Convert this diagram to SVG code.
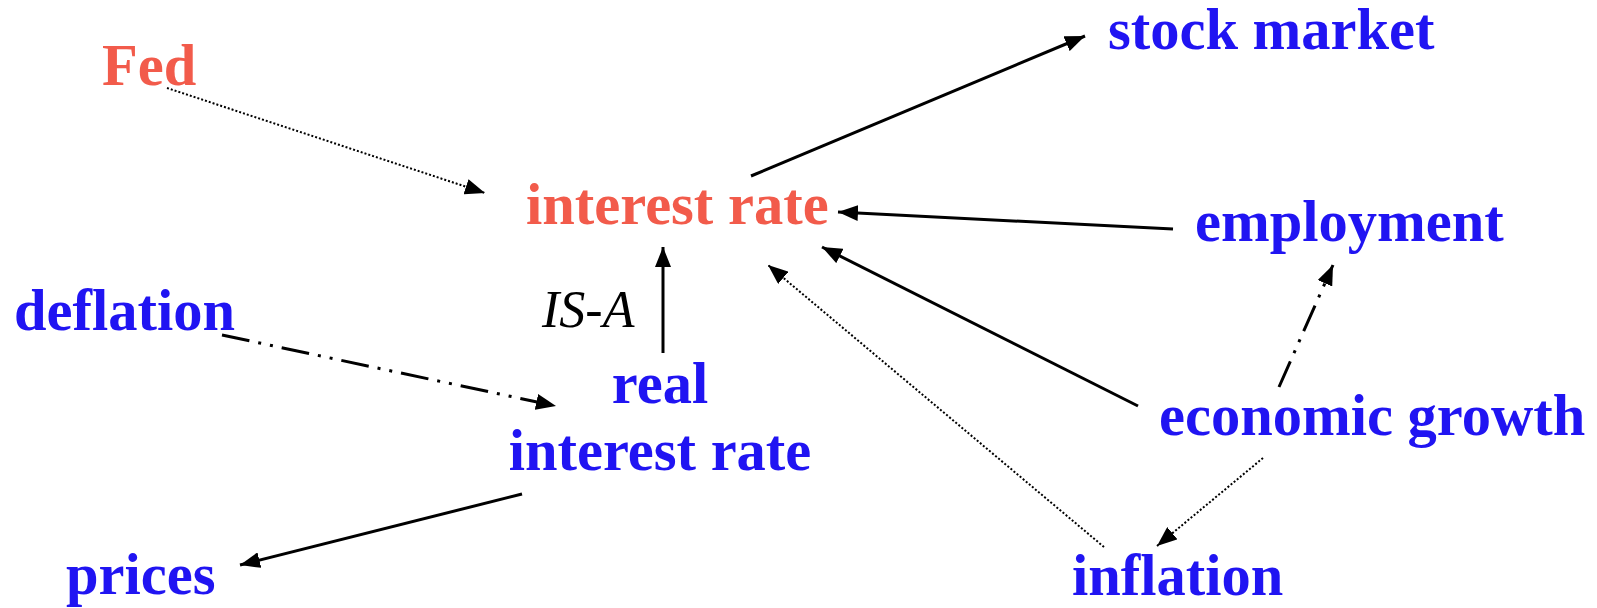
<svg xmlns="http://www.w3.org/2000/svg" width="1597" height="608" viewBox="0 0 1597 608">
<style>
text{font-family:"Liberation Serif","Times New Roman",serif;font-weight:bold;font-size:58.5px}
.red{fill:#F25B4B}
.blue{fill:#2014F2}
.isa{font-weight:normal;font-style:italic;font-size:52px;fill:#000}
.solid{stroke:#000;stroke-width:3;fill:none}
.dot{stroke:#000;stroke-width:2;stroke-dasharray:2 2;fill:none}
.dashdot{stroke:#000;stroke-width:3;stroke-dasharray:28 9 3 9 3 9;fill:none}
</style>
<defs>
<marker id="ah" markerUnits="userSpaceOnUse" markerWidth="22" markerHeight="16" refX="20" refY="8" orient="auto">
<path d="M0,0 L20,8 L0,16 z" fill="#000"/>
</marker>
</defs>
<g id="connectors">
<line class="dot" x1="167" y1="88" x2="485" y2="193" marker-end="url(#ah)"/>
<line class="solid" x1="751" y1="176" x2="1085" y2="36" marker-end="url(#ah)"/>
<line class="solid" x1="1173" y1="229" x2="838" y2="212" marker-end="url(#ah)"/>
<line class="solid" x1="1138" y1="406" x2="822" y2="247" marker-end="url(#ah)"/>
<line class="dot" x1="1104" y1="547" x2="768" y2="265" marker-end="url(#ah)"/>
<line class="solid" x1="663" y1="353" x2="663" y2="247" marker-end="url(#ah)"/>
<line class="dashdot" x1="222" y1="335" x2="556" y2="406" marker-end="url(#ah)"/>
<line class="dashdot" x1="1279" y1="387" x2="1333" y2="265" marker-end="url(#ah)"/>
<line class="dot" x1="1263" y1="458" x2="1157" y2="546" marker-end="url(#ah)"/>
<line class="solid" x1="522" y1="494" x2="240" y2="565" marker-end="url(#ah)"/>
<text class="isa" x="542" y="327">IS-A</text>
</g>
<g id="fed"><text class="red" x="102" y="85">Fed</text></g>
<g id="interest-rate"><text class="red" x="526" y="224">interest rate</text></g>
<g id="stock-market"><text class="blue" x="1108" y="49">stock market</text></g>
<g id="employment"><text class="blue" x="1195" y="241">employment</text></g>
<g id="deflation"><text class="blue" x="14" y="330">deflation</text></g>
<g id="real-interest-rate"><text class="blue" x="660" y="403" text-anchor="middle">real</text><text class="blue" x="660" y="470" text-anchor="middle">interest rate</text></g>
<g id="economic-growth"><text class="blue" x="1159" y="435">economic growth</text></g>
<g id="prices"><text class="blue" x="66" y="594">prices</text></g>
<g id="inflation"><text class="blue" x="1072" y="595">inflation</text></g>
</svg>
